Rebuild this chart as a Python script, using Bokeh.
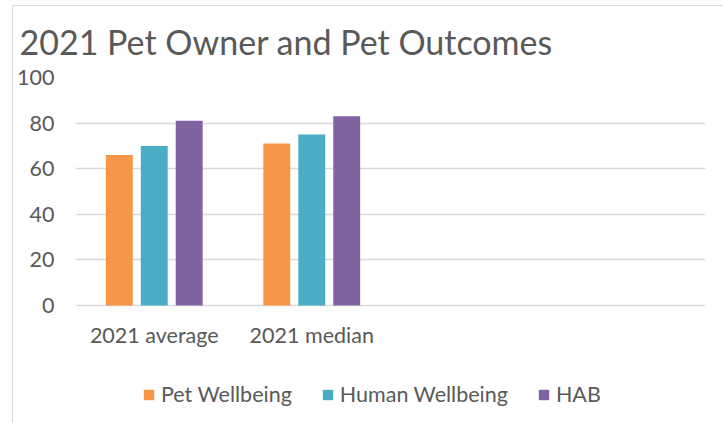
from bokeh.plotting import figure
from bokeh.models import FactorRange, Range1d, Legend, LegendItem, ColumnDataSource, FixedTicker
from bokeh.transform import dodge
from bokeh.embed import file_html
from bokeh.resources import INLINE

# ---- data ----
categories = ["2021 average", "2021 median"]
pad_factors = [" ", "  "]
series_names = ["Pet Wellbeing", "Human Wellbeing", "HAB"]
pet_wellbeing = [66, 71]
human_wellbeing = [70, 75]
hab = [81, 83]
y_ticks = [0, 20, 40, 60, 80, 100]
colors = ["#F79646", "#4BACC6", "#8064A2"]

FONT = "Lato"
TXT = "#595959"
GRID = "#d9d9d9"

src = ColumnDataSource(dict(cat=categories, pet=pet_wellbeing, human=human_wellbeing, hab=hab))

# frame extends below 0 so that the legend can sit inside it
p = figure(
    x_range=FactorRange(*(categories + pad_factors)),
    y_range=Range1d(-51.75, 100),
    frame_width=630, frame_height=346,
    min_border_left=62, min_border_right=18, min_border_top=71, min_border_bottom=0,
    output_backend="svg", toolbar_location=None,
    title="2021 Pet Owner and Pet Outcomes",
)
p.styles = {"margin-left": "12px", "margin-top": "5px",
            "border-left": f"1px solid {GRID}", "border-top": f"1px solid {GRID}"}

offsets = [-0.222, 0.0, 0.222]
fields = ["pet", "human", "hab"]
renderers = []
for f, off, c in zip(fields, offsets, colors):
    r = p.vbar(x=dodge("cat", off, range=p.x_range), top=f, width=0.171, bottom=0,
               source=src, fill_color=c, line_color=None)
    renderers.append(r)

p.outline_line_color = None
p.background_fill_color = "white"
p.border_fill_color = "white"

p.title.text_font = FONT
p.title.text_font_size = "34px"
p.title.text_font_style = "normal"
p.title.text_color = TXT
p.title.align = "left"
p.title.offset = -56
p.title.standoff = 27
p.title.vertical_align = "top"

p.xgrid.grid_line_color = None
p.ygrid.grid_line_color = GRID
p.ygrid.grid_line_width = 1.5
p.yaxis.ticker = FixedTicker(ticks=y_ticks)

for ax in (p.xaxis, p.yaxis):
    ax.axis_line_color = None
    ax.major_tick_line_color = None
    ax.minor_tick_line_color = None
    ax.major_tick_out = 0
    ax.major_tick_in = 0
    ax.minor_tick_out = 0
    ax.minor_tick_in = 0
    ax.major_label_text_font = FONT
    ax.major_label_text_font_size = "21.5px"
    ax.major_label_text_color = TXT
p.yaxis.major_label_standoff = 21
p.xaxis.major_label_standoff = 16
p.xaxis.fixed_location = 0

legend = Legend(
    items=[LegendItem(label=n, renderers=[r]) for n, r in zip(series_names, renderers)],
    orientation="horizontal", location=(67, 16),
    border_line_color=None, background_fill_alpha=0,
    padding=0, margin=0, spacing=29, label_standoff=6,
    glyph_width=13, glyph_height=13,
    label_text_font=FONT, label_text_font_size="21.5px", label_text_color=TXT,
)
p.add_layout(legend)

open("out.html", "w").write(file_html(p, INLINE))
